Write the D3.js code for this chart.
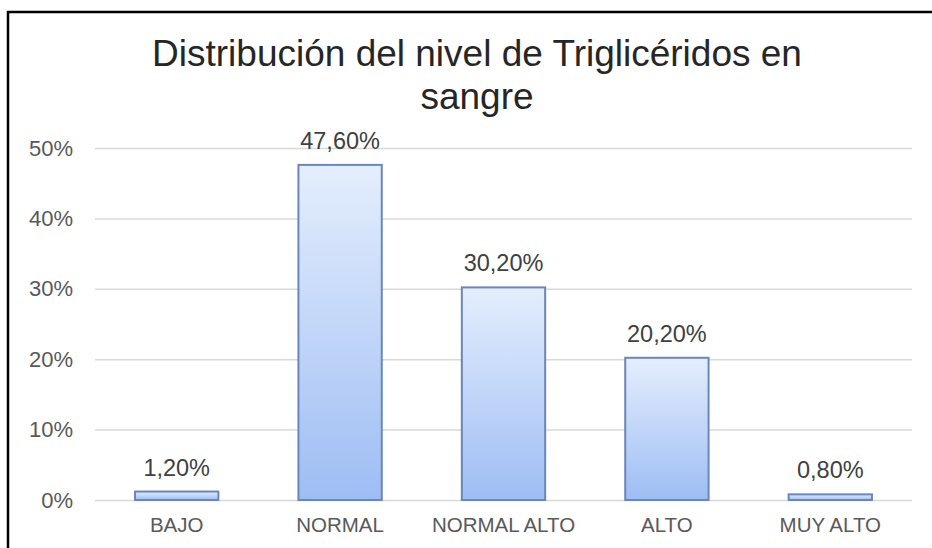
<!DOCTYPE html>
<html>
<head>
<meta charset="utf-8">
<script src="https://cdn.jsdelivr.net/npm/d3@7"></script>
<style>
  html, body { margin: 0; padding: 0; background: #fff; }
  svg { display: block; }
  text { font-family: "Liberation Sans", Arial, sans-serif; }
</style>
</head>
<body>
<svg id="chart" width="932" height="548"></svg>
<script>
const titleLines = ["Distribución del nivel de Triglicéridos en", "sangre"];
const categories = ["BAJO", "NORMAL", "NORMAL ALTO", "ALTO", "MUY ALTO"];
const values = [1.2, 47.6, 30.2, 20.2, 0.8];
const valueLabels = ["1,20%", "47,60%", "30,20%", "20,20%", "0,80%"];
const yTicks = [0, 10, 20, 30, 40, 50];
const yTickLabels = ["0%", "10%", "20%", "30%", "40%", "50%"];

const svg = d3.select("#chart");

// outer frame (only top and left visible in reference)
svg.append("rect").attr("x", 8).attr("y", 12).attr("width", 960).attr("height", 580)
  .attr("fill", "#fff").attr("stroke", "#000").attr("stroke-width", 2.5);

const defs = svg.append("defs");
const grad = defs.append("linearGradient").attr("id", "barGrad")
  .attr("x1", 0).attr("y1", 0).attr("x2", 0).attr("y2", 1);
grad.append("stop").attr("offset", "0%").attr("stop-color", "#e4eefd");
grad.append("stop").attr("offset", "100%").attr("stop-color", "#9ebdf4");

const plot = { left: 95, right: 912, top: 148, bottom: 500 };

const x = d3.scaleBand().domain(categories).range([plot.left, plot.right])
  .paddingInner(0.49).paddingOuter(0.245);
const y = d3.scaleLinear().domain([0, 50]).range([plot.bottom, plot.top]);

// title
const title = svg.append("text").attr("text-anchor", "middle")
  .attr("fill", "#262626").style("font-size", "37px");
title.selectAll("tspan").data(titleLines).join("tspan")
  .attr("x", 477).attr("y", (d, i) => 66 + i * 43).text(d => d);

// gridlines + y axis
const yAxis = d3.axisLeft(y).tickValues(yTicks)
  .tickFormat((d, i) => yTickLabels[i])
  .tickSize(-(plot.right - plot.left)).tickPadding(22);
const gy = svg.append("g").attr("transform", `translate(${plot.left},0)`).call(yAxis);
gy.select(".domain").remove();
gy.selectAll(".tick line").attr("stroke", "#d9d9d9").attr("stroke-width", 1.5);
gy.selectAll(".tick text").attr("fill", "#595959").style("font-size", "22px")
  .attr("font-family", "Liberation Sans, Arial, sans-serif");

// bars
svg.append("g").selectAll("rect").data(values).join("rect")
  .attr("x", (d, i) => x(categories[i]))
  .attr("y", d => y(d))
  .attr("width", x.bandwidth())
  .attr("height", d => y(0) - y(d))
  .attr("fill", "url(#barGrad)")
  .attr("stroke", "#6b86b8").attr("stroke-width", 2);

// value labels
svg.append("g").selectAll("text").data(values).join("text")
  .attr("x", (d, i) => x(categories[i]) + x.bandwidth() / 2)
  .attr("y", d => y(d) - 16)
  .attr("text-anchor", "middle")
  .attr("fill", "#404040").style("font-size", "23.5px")
  .text((d, i) => valueLabels[i]);

// x axis
const xAxis = d3.axisBottom(x).tickSize(0).tickPadding(17);
const gx = svg.append("g").attr("transform", `translate(0,${plot.bottom})`).call(xAxis);
gx.select(".domain").remove();
gx.selectAll(".tick text").attr("fill", "#595959").style("font-size", "20.5px")
  .attr("font-family", "Liberation Sans, Arial, sans-serif");
</script>
</body>
</html>
